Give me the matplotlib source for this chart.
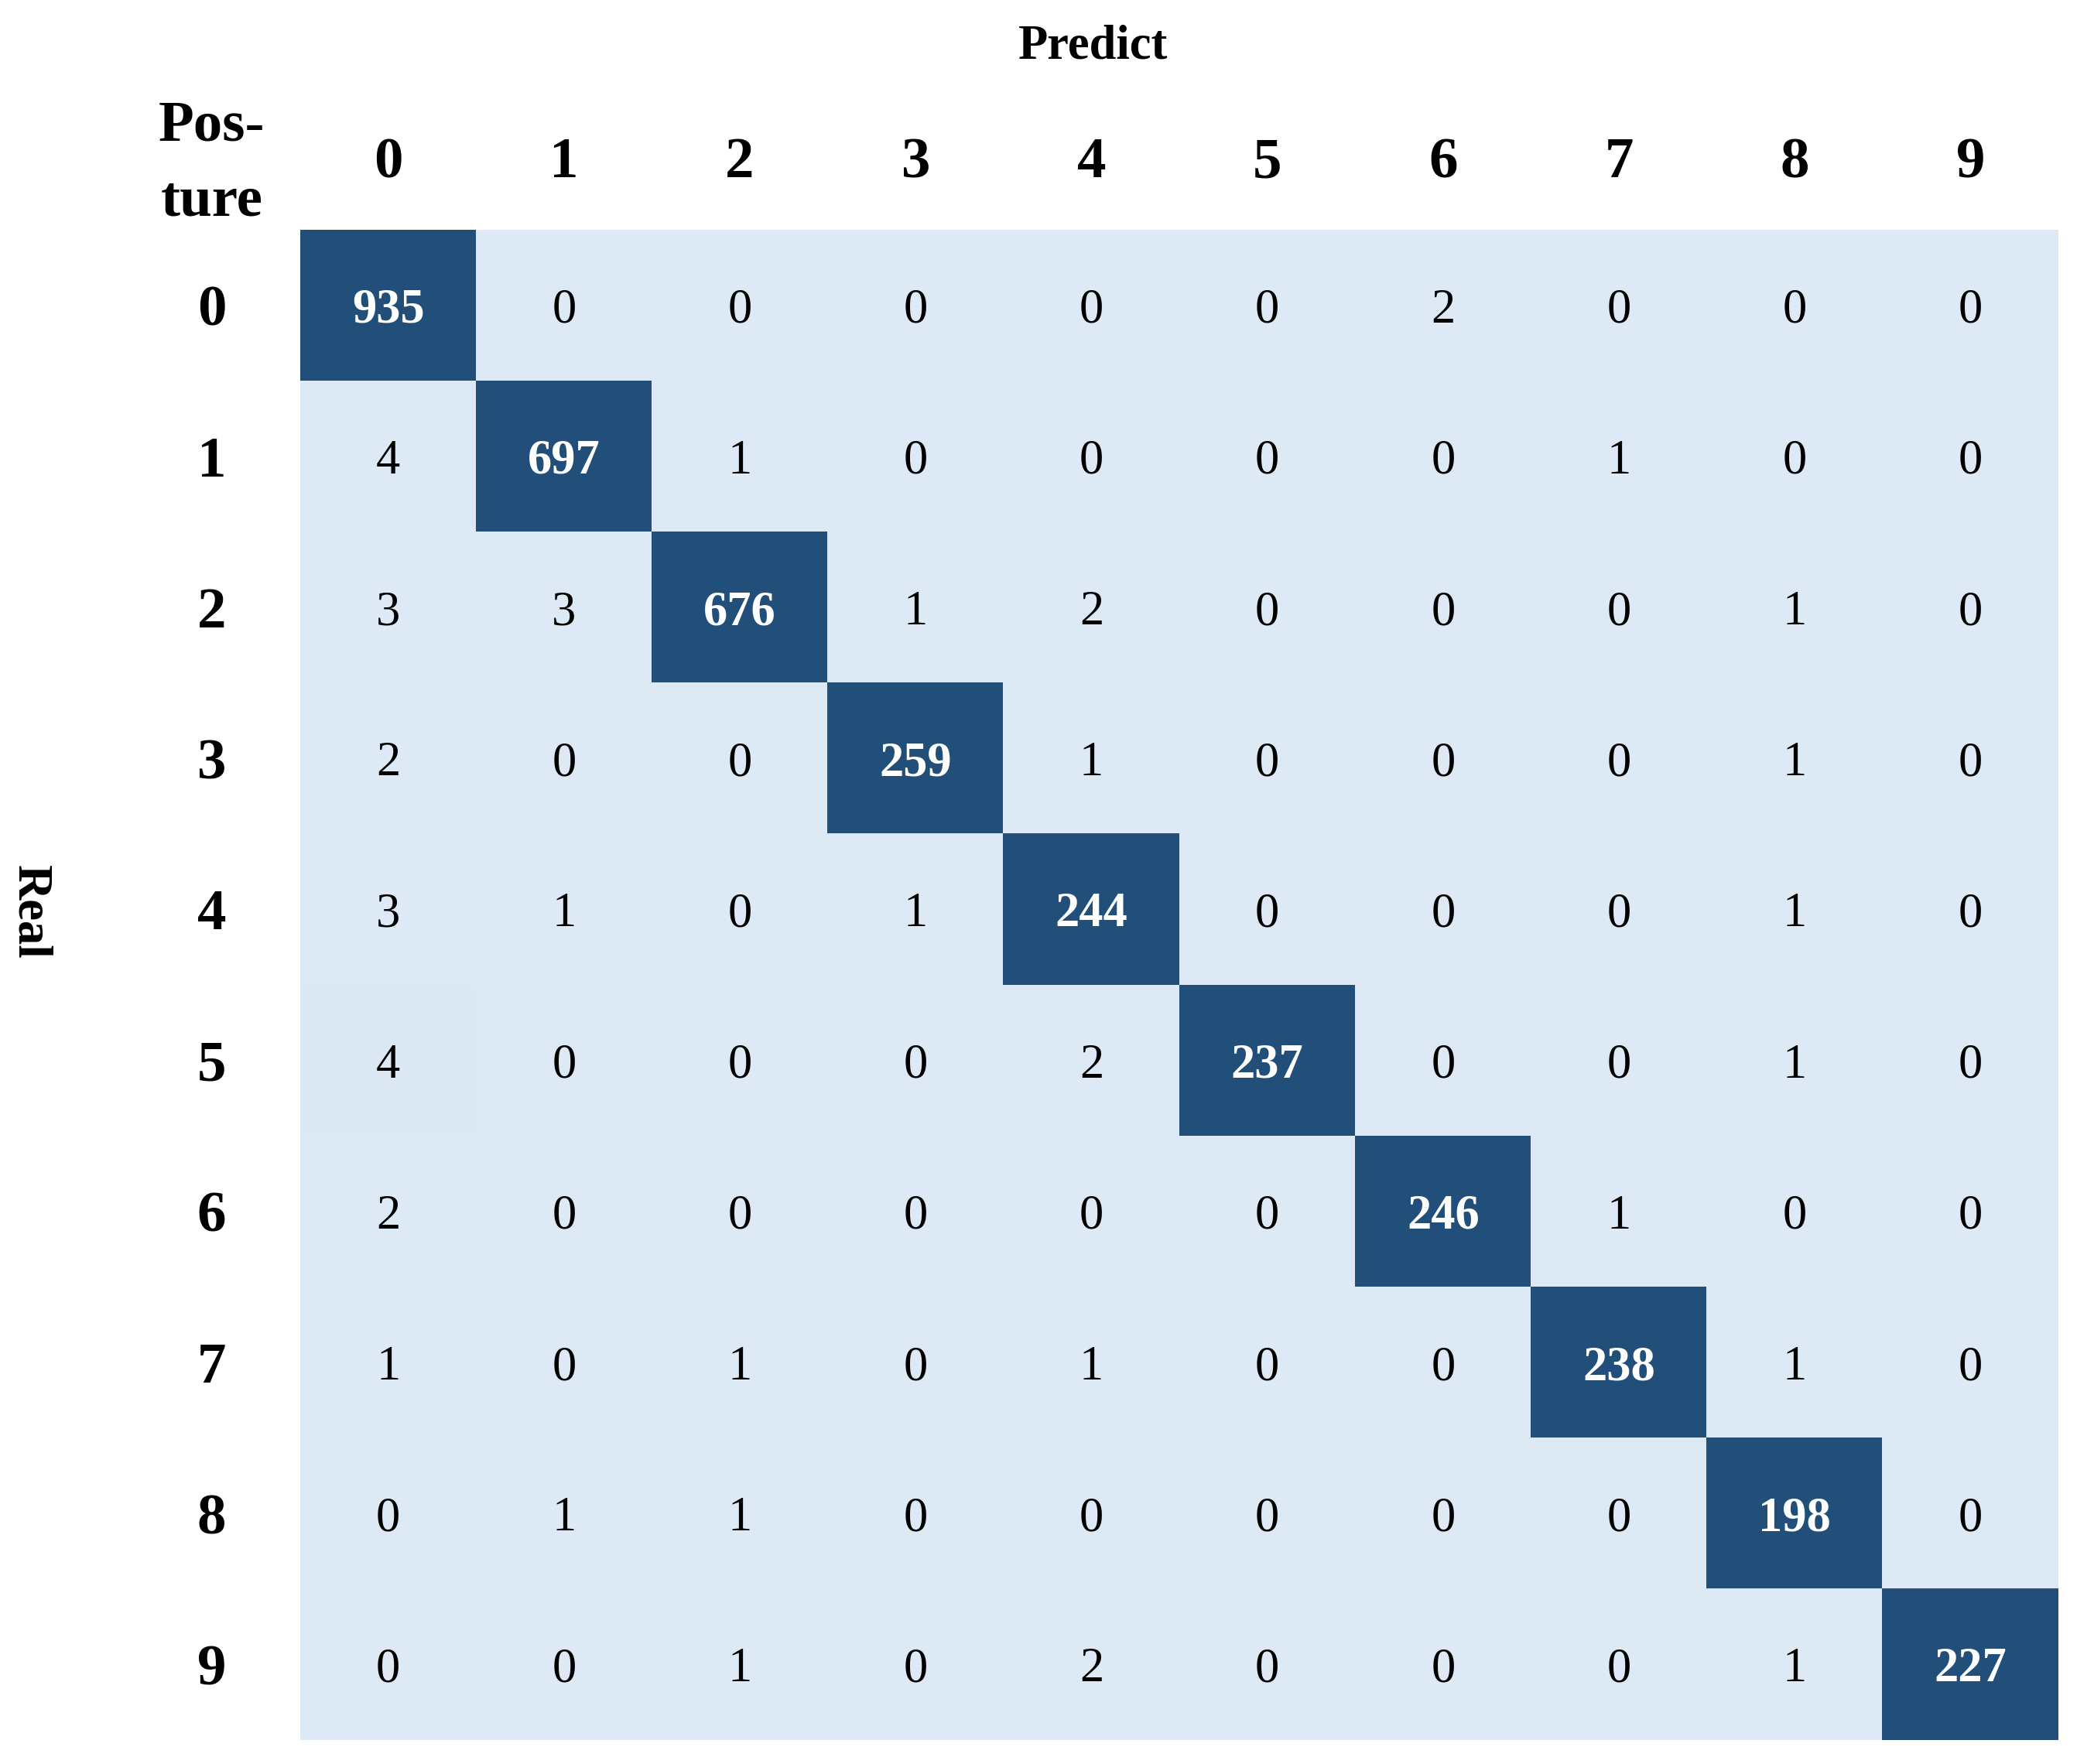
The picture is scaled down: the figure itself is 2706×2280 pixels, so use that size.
import numpy as np
import matplotlib
matplotlib.use("Agg")
from matplotlib import pyplot as plt
from matplotlib.colors import LinearSegmentedColormap

# confusion matrix (rows = real, cols = predict)
labels = ['0', '1', '2', '3', '4', '5', '6', '7', '8', '9']
row0 = [935, 0, 0, 0, 0, 0, 2, 0, 0, 0]
row1 = [4, 697, 1, 0, 0, 0, 0, 1, 0, 0]
row2 = [3, 3, 676, 1, 2, 0, 0, 0, 1, 0]
row3 = [2, 0, 0, 259, 1, 0, 0, 0, 1, 0]
row4 = [3, 1, 0, 1, 244, 0, 0, 0, 1, 0]
row5 = [4, 0, 0, 0, 2, 237, 0, 0, 1, 0]
row6 = [2, 0, 0, 0, 0, 0, 246, 1, 0, 0]
row7 = [1, 0, 1, 0, 1, 0, 0, 238, 1, 0]
row8 = [0, 1, 1, 0, 0, 0, 0, 0, 198, 0]
row9 = [0, 0, 1, 0, 2, 0, 0, 0, 1, 227]

cm = np.array([row0, row1, row2, row3, row4, row5, row6, row7, row8, row9])
cm_norm = cm / cm.sum(axis=1, keepdims=True)

plt.rcParams['font.family'] = ['Liberation Serif', 'DejaVu Serif']

cmap = LinearSegmentedColormap.from_list('blu', ['#dde9f5', '#214f7a'])

fig = plt.figure(figsize=(9.02, 7.6), dpi=300)
ax = fig.add_axes([0.1434, 0.0136, 0.8396, 0.8561])
ax.imshow(cm_norm ** 1.3, cmap=cmap, vmin=0, vmax=0.97, aspect='auto')

for i in range(cm.shape[0]):
    for j in range(cm.shape[1]):
        if cm_norm[i, j] > 0.5:
            ax.text(j, i, str(cm[i, j]), ha='center', va='center_baseline',
                    color='white', fontsize=15, fontweight='bold')
        else:
            ax.text(j, i, str(cm[i, j]), ha='center', va='center_baseline',
                    color='black', fontsize=15)

ax.xaxis.tick_top()
ax.set_xticks(range(len(labels)))
ax.set_yticks(range(len(labels)))
ax.set_xticklabels(labels, fontsize=18, fontweight='bold')
ax.set_yticklabels(labels, fontsize=18, fontweight='bold')
ax.tick_params(axis='x', length=0, pad=12.5)
ax.tick_params(axis='y', length=0, pad=23)
for s in ax.spines.values():
    s.set_visible(False)

fig.text(0.522, 0.9735, 'Predict', ha='center', va='center',
         fontsize=15, fontweight='bold')
fig.text(0.014, 0.483, 'Real', ha='center', va='center', rotation=-90,
         fontsize=15, fontweight='bold')
fig.text(0.101, 0.907, 'Pos-\nture', ha='center', va='center',
         fontsize=18, fontweight='bold', linespacing=1.55)

fig.savefig('out.png', dpi=300)
